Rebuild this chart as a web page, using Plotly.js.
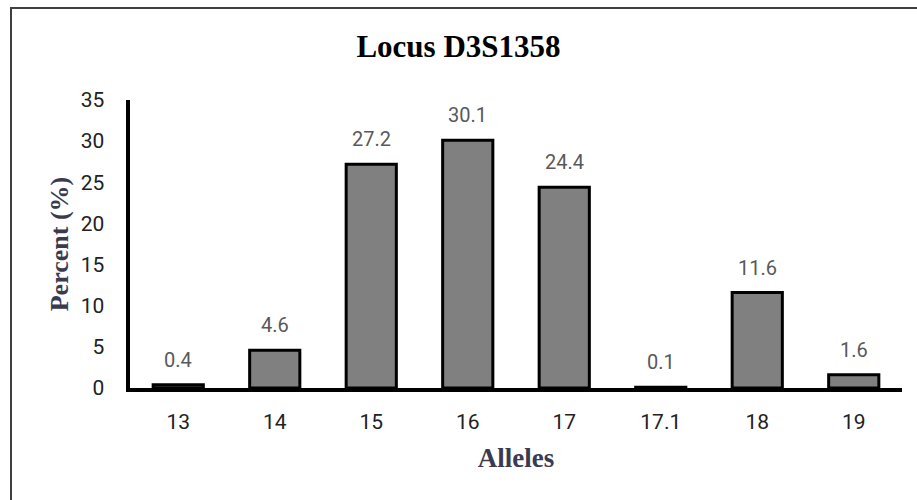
<!DOCTYPE html>
<html>
<head>
<meta charset="utf-8">
<script src="https://cdn.plot.ly/plotly-3.0.1.min.js"></script>
<style>
  html, body { margin: 0; padding: 0; background: #fff; }
  #wrap { position: relative; width: 917px; height: 500px; overflow: hidden; }
  #frame { position: absolute; left: 10px; top: 7px; width: 1000px; height: 600px;
           border-top: 2px solid #3f3f3f; border-left: 2px solid #3f3f3f; pointer-events: none; }
  #chart { position: absolute; left: 0; top: 0; width: 917px; height: 500px; }
</style>
</head>
<body>
<div id="wrap">
  <div id="chart"></div>
  <div id="frame"></div>
</div>
<script>
const alleles = ["13", "14", "15", "16", "17", "17.1", "18", "19"];
const percents = [0.4, 4.6, 27.2, 30.1, 24.4, 0.1, 11.6, 1.6];
const valueLabels = ["0.4", "4.6", "27.2", "30.1", "24.4", "0.1", "11.6", "1.6"];
const yTicks = [0, 5, 10, 15, 20, 25, 30, 35];

const trace = {
  type: "bar",
  x: alleles,
  y: percents,
  width: 0.52,
  marker: { color: "#808080", line: { color: "#000000", width: 3 } },
  hoverinfo: "skip",
  cliponaxis: false
};

const annotations = alleles.map((a, i) => ({
  x: i, y: percents[i], xref: "x", yref: "y",
  text: valueLabels[i], showarrow: false,
  yanchor: "bottom", yshift: 11,
  font: { family: "Roboto, sans-serif", size: 20, color: "#595959" }
}));

const layout = {
  width: 917, height: 500,
  margin: { l: 130, r: 15, t: 100, b: 112 },
  paper_bgcolor: "rgba(0,0,0,0)",
  plot_bgcolor: "rgba(0,0,0,0)",
  showlegend: false,
  title: {
    text: "<b>Locus D3S1358</b>",
    x: 0.5, xref: "container", xanchor: "center",
    y: 0.907, yref: "container", yanchor: "middle",
    font: { family: "Liberation Serif, Times New Roman, serif", size: 31, color: "#000" }
  },
  xaxis: {
    type: "category",
    categoryorder: "array", categoryarray: alleles,
    range: [-0.5, alleles.length - 0.5],
    showline: true, linecolor: "#000", linewidth: 4,
    showgrid: false, zeroline: false,
    ticks: "outside", ticklen: 12, tickcolor: "rgba(0,0,0,0)",
    tickfont: { family: "Roboto, sans-serif", size: 21, color: "#222" },
    title: {
      text: "<b>Alleles</b>", standoff: 16,
      font: { family: "Liberation Serif, Times New Roman, serif", size: 27, color: "#3b3b50" }
    }
  },
  yaxis: {
    range: [0, 35],
    tickvals: yTicks,
    showline: true, linecolor: "#000", linewidth: 4.5,
    showgrid: false, zeroline: false,
    ticks: "outside", ticklen: 17, tickcolor: "rgba(0,0,0,0)",
    tickfont: { family: "Roboto, sans-serif", size: 21, color: "#222" },
    title: {
      text: "<b>Percent (%)</b>", standoff: 6,
      font: { family: "Liberation Serif, Times New Roman, serif", size: 26, color: "#3b3b50" }
    }
  },
  annotations: annotations
};

Plotly.newPlot("chart", [trace], layout, { displayModeBar: false, staticPlot: true });
</script>
</body>
</html>
